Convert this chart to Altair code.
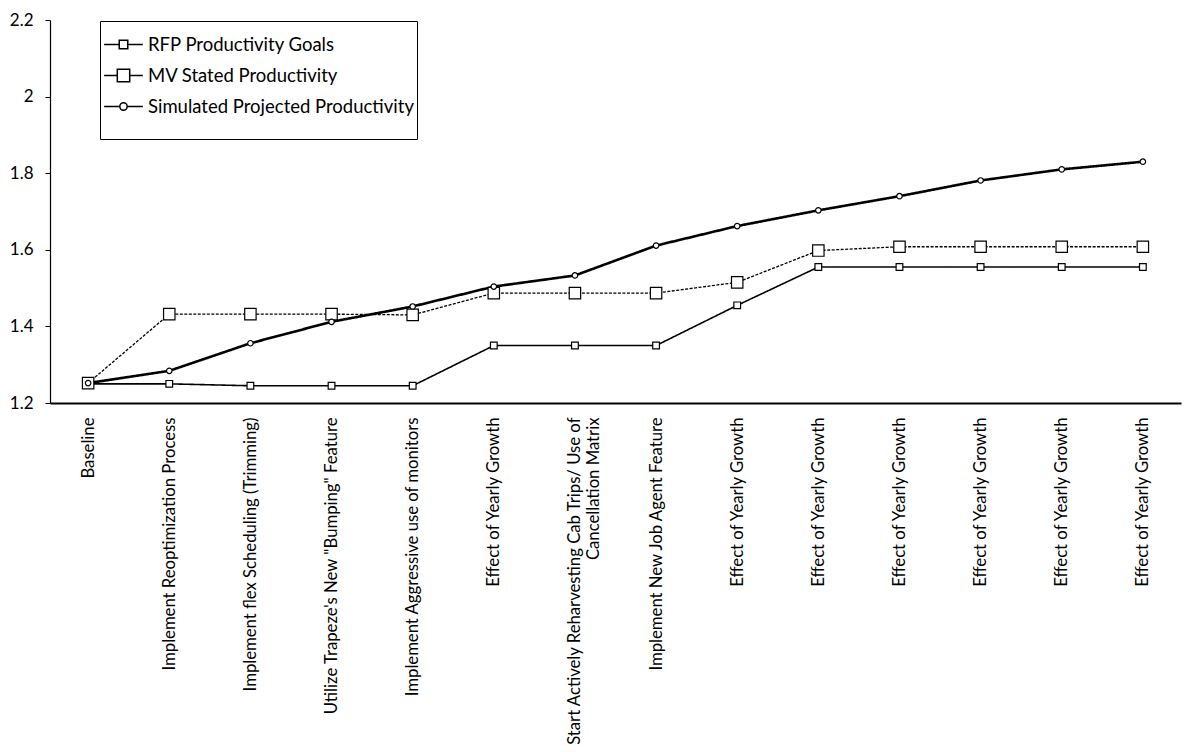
import json
import altair as alt
import pandas as pd

categories = [
    "Baseline",
    "Implement Reoptimization Process",
    "Implement flex Scheduling (Trimming)",
    "Utilize Trapeze's New \"Bumping\" Feature",
    "Implement Aggressive use of monitors",
    "Effect of Yearly Growth",
    ["Start Actively Reharvesting Cab Trips/ Use of", "Cancellation Matrix"],
    "Implement New Job Agent Feature",
    "Effect of Yearly Growth",
    "Effect of Yearly Growth",
    "Effect of Yearly Growth",
    "Effect of Yearly Growth",
    "Effect of Yearly Growth",
    "Effect of Yearly Growth",
]

series_names = ["RFP Productivity Goals", "MV Stated Productivity", "Simulated Projected Productivity"]

rfp = [1.25, 1.25, 1.245, 1.245, 1.245, 1.35, 1.35, 1.35, 1.455, 1.555, 1.555, 1.555, 1.555, 1.555]
mv = [1.252, 1.432, 1.432, 1.432, 1.43, 1.487, 1.487, 1.487, 1.515, 1.598, 1.608, 1.608, 1.608, 1.608]
sim = [1.252, 1.284, 1.356, 1.412, 1.452, 1.504, 1.533, 1.611, 1.662, 1.703, 1.740, 1.781, 1.810, 1.830]

y_ticks = [1.2, 1.4, 1.6, 1.8, 2.0, 2.2]

rows = []
for name, vals in zip(series_names, [rfp, mv, sim]):
    for i, v in enumerate(vals):
        rows.append({"idx": i, "series": name, "value": v})
df = pd.DataFrame(rows)

FONT = "Lato"
label_expr = json.dumps(categories) + "[datum.value]"

x_enc = alt.X(
    "idx:O",
    scale=alt.Scale(padding=0.47),
    axis=alt.Axis(
        title=None, labelAngle=-90, labelAlign="right", labelBaseline="middle",
        labelExpr=label_expr, ticks=False, labelPadding=14, labelFontSize=16.7,
        labelFont=FONT, labelColor="black", labelLimit=500, labelOverlap=False,
        domainColor="black", domainWidth=2, grid=False,
    ),
)
y_enc = alt.Y(
    "value:Q",
    scale=alt.Scale(domain=[1.2, 2.2], nice=False, zero=False),
    axis=alt.Axis(
        title=None, values=y_ticks, format=".1~f", labelFontSize=17, labelFont=FONT,
        labelColor="black", tickColor="black", tickSize=5, labelPadding=12,
        domainColor="black", domainWidth=1.2, grid=False,
    ),
)

lines = alt.Chart(df).mark_line(color="black").encode(
    x=x_enc, y=y_enc,
    detail="series:N",
    strokeWidth=alt.StrokeWidth("series:N", legend=None,
                                scale=alt.Scale(type="ordinal", domain=series_names, range=[1.6, 1.3, 2.6])),
    strokeDash=alt.StrokeDash("series:N", legend=None,
                              scale=alt.Scale(domain=series_names, range=[[1, 0], [3, 1.5], [1, 0]])),
)

points = alt.Chart(df).mark_point(filled=True, fill="white", stroke="black", strokeWidth=1.2, opacity=1).encode(
    x=x_enc, y=y_enc,
    shape=alt.Shape("series:N", legend=None,
                    scale=alt.Scale(domain=series_names, range=["square", "square", "circle"])),
    size=alt.Size("series:N", legend=None,
                  scale=alt.Scale(type="ordinal", domain=series_names, range=[45, 130, 30])),
)

legend_paths = [
    "M-1,0H-0.22M0.22,0H1M-0.22,-0.22H0.22V0.22H-0.22Z",
    "M-1,0H-0.32M0.32,0H1M-0.32,-0.32H0.32V0.32H-0.32Z",
    "M-1,0H-0.19M0.19,0H1M-0.19,0A0.19,0.19,0,1,0,0.19,0A0.19,0.19,0,1,0,-0.19,0Z",
]

legend_layer = alt.Chart(df).mark_point(opacity=0, color="black").encode(
    x=x_enc, y=y_enc,
    shape=alt.Shape(
        "series:N",
        scale=alt.Scale(domain=series_names, range=legend_paths),
        legend=alt.Legend(
            title="\u00a0", titleOrient="bottom", titleFontSize=18, titlePadding=2,
            orient="none", legendX=50, legendY=1,
            symbolSize=1500, symbolStrokeWidth=1.5, symbolStrokeColor="black",
            symbolFillColor="white", symbolOpacity=1,
            labelFont=FONT, labelFontSize=18.5, labelColor="black", labelOffset=4,
            strokeColor="black", padding=3, rowPadding=1, labelLimit=400,
        ),
    ),
)

chart = alt.layer(lines, points, legend_layer).resolve_scale(
    shape="independent", size="independent"
).properties(
    width=1131, height=383,
    autosize=alt.AutoSizeParams(type="none"),
    padding={"left": 50, "top": 20, "right": 3, "bottom": 349},
    background="white",
).configure_view(stroke=None)

chart.save("out.html", embed_options={"renderer": "svg", "actions": False})
